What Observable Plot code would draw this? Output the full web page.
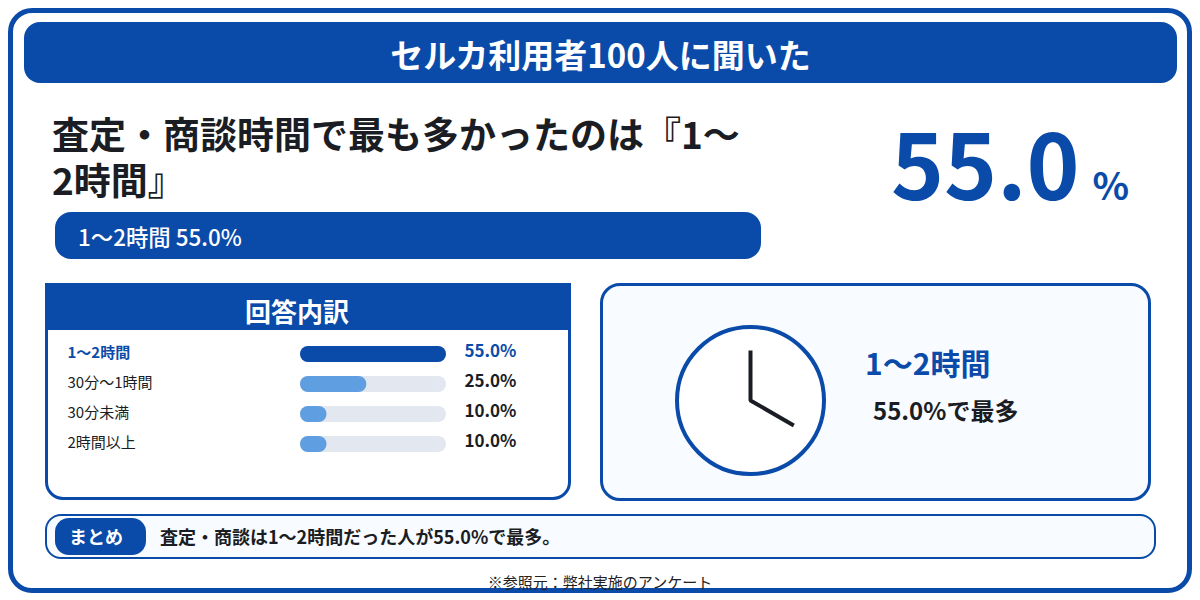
<!DOCTYPE html>
<html lang="ja">
<head>
<meta charset="utf-8">
<script src="https://cdn.jsdelivr.net/npm/d3@7"></script>
<script src="https://cdn.jsdelivr.net/npm/@observablehq/plot@0.6"></script>
<style>
html,body{margin:0;padding:0;background:#fff;width:1200px;height:600px;overflow:hidden;font-family:"Noto Sans CJK JP","Noto Sans",sans-serif;color:#1a1d23}
.a{position:absolute;box-sizing:border-box;white-space:nowrap}
.c{display:flex;align-items:center;justify-content:center}
svg{display:block;overflow:visible}
</style>
</head>
<body>
<div class="a" style="left:8px;top:8px;width:1184px;height:585px;border:5px solid #0a4ba9;border-radius:24px"></div>
<div class="a c" id="header" style="left:24px;top:22px;width:1153px;height:63px;color:#fff;font-size:33px;font-weight:700;z-index:1"></div>
<div class="a" style="left:24px;top:22px;width:1153px;height:61px;background:#0a4ba9;border-radius:16px"></div>
<div class="a" id="headline" style="left:52px;top:110px;width:700px;white-space:normal;font-size:37px;font-weight:700;line-height:46px"></div>
<div class="a" id="hero" style="left:891px;top:95px;color:#0a4ba9;font-weight:700;line-height:133px;font-size:90px"></div>
<div class="a" id="strip" style="left:55px;top:212px;width:706px;height:47px;background:#0a4ba9;border-radius:16px;color:#fff;font-size:22.4px;font-weight:500;line-height:49px;padding-left:23px"></div>

<div class="a" style="left:45px;top:283px;width:526px;height:217px;border:3px solid #0a4ba9;border-radius:0 0 18px 18px;background:#fff"></div>
<div class="a" style="left:45px;top:283px;width:526px;height:47px;background:#0a4ba9"></div>
<div class="a c" id="panelTitle" style="left:45px;top:285px;width:504px;height:50px;color:#fff;font-size:26px;font-weight:700"></div>
<div class="a" id="bars" style="left:48px;top:330px"></div>

<div class="a" style="left:600px;top:283px;width:551px;height:218px;border:3px solid #0a4ba9;border-radius:20px;background:#f8fbff"></div>
<div class="a" id="clock" style="left:670px;top:320px"></div>
<div class="a" id="big" style="left:865px;top:340px;font-size:30px;font-weight:700;color:#0a4ba9;line-height:44px"></div>
<div class="a" id="sub" style="left:873px;top:392px;font-size:24px;font-weight:700;line-height:36px"></div>

<div class="a" style="left:45px;top:514px;width:1111px;height:45px;border:2.5px solid #0a4ba9;border-radius:16px;background:#f8fbff"></div>
<div class="a" style="left:55px;top:518px;width:91px;height:37px;background:#0a4ba9;border-radius:14px"></div>
<div class="a c" id="tag" style="left:50px;top:517px;width:92px;height:37px;color:#fff;font-size:18px;font-weight:700"></div>
<div class="a" id="summary" style="left:160px;top:522px;font-size:18px;font-weight:700;line-height:28px"></div>
<div class="a c" id="source" style="left:400px;top:571px;width:400px;height:21px;font-size:15px;font-weight:400;color:#222;z-index:2"></div>

<script>
const headerText = "セルカ利用者100人に聞いた";
const topicText = "査定・商談時間";
const panelTitle = "回答内訳";
const tagText = "まとめ";
const sourceText = "※参照元：弊社実施のアンケート";

const categories = ["1〜2時間", "30分〜1時間", "30分未満", "2時間以上"];
const shares = [55.0, 25.0, 10.0, 10.0];

const handAngles = [0, 120]; // minute and hour hand, degrees clockwise from 12
const handLength = 50;

const blue = "#0a4ba9", light = "#5f9ee0", track = "#e3e8f0", ink = "#1a1d23";

const rows = categories.map((label, i) => ({label, share: shares[i]}));
const maxShare = d3.max(shares);
const top1 = rows.find(d => d.share === maxShare);
const pct = top1.share.toFixed(1);

document.getElementById("header").textContent = headerText;
document.getElementById("headline").textContent = `${topicText}で最も多かったのは『${top1.label}』`;
document.getElementById("hero").innerHTML = `${pct}<span style="font-size:38px;margin-left:13px">%</span>`;
document.getElementById("strip").textContent = `${top1.label} ${pct}%`;
document.getElementById("panelTitle").textContent = panelTitle;
document.getElementById("big").textContent = top1.label;
document.getElementById("sub").textContent = `${pct}%で最多`;
document.getElementById("tag").textContent = tagText;
document.getElementById("summary").textContent = `査定・商談は${top1.label}だった人が${pct}%で最多。`;
document.getElementById("source").textContent = sourceText;

const isTop = d => d.share === maxShare;
const labelOpts = {x: () => 0, y: "label", text: "label", textAnchor: "start", dx: -233, dy: -1, fontSize: 15};

document.getElementById("bars").append(Plot.plot({
  width: 520, height: 167,
  marginLeft: 252, marginRight: 122, marginTop: 9, marginBottom: 38,
  style: {background: "transparent", fontFamily: '"Noto Sans CJK JP", sans-serif'},
  x: {domain: [0, maxShare], axis: null},
  y: {domain: categories, padding: 0, axis: null},
  marks: [
    Plot.barX(rows, {x1: () => 0, x2: () => maxShare, y: "label", fill: track, rx: 8, insetTop: 7, insetBottom: 7}),
    Plot.barX(rows, {x1: () => 0, x2: "share", y: "label", fill: d => isTop(d) ? blue : light, rx: 8, insetTop: 7, insetBottom: 7}),
    Plot.text(rows.filter(isTop), {...labelOpts, fontWeight: 700, fill: blue}),
    Plot.text(rows.filter(d => !isTop(d)), {...labelOpts, fontWeight: 400, fill: ink}),
    Plot.text(rows, {x: () => maxShare, y: "label", text: d => d.share.toFixed(1) + "%", textAnchor: "start", dx: 18, dy: -3, fontSize: 17,
      fontWeight: 700, fill: d => isTop(d) ? blue : ink})
  ]
}));

const hand = a => [handLength * Math.sin(a * Math.PI / 180), handLength * Math.cos(a * Math.PI / 180)];
const clockPath = [hand(handAngles[0]), [0, 0], hand(handAngles[1])];

document.getElementById("clock").append(Plot.plot({
  width: 160, height: 160, margin: 0,
  style: {background: "transparent"},
  x: {domain: [-80, 80], axis: null},
  y: {domain: [-80, 80], axis: null},
  marks: [
    Plot.dot([[0, 0]], {x: d => d[0], y: d => d[1], r: 73.5, fill: "#fff", stroke: blue, strokeWidth: 4}),
    Plot.line(clockPath, {x: d => d[0], y: d => d[1], stroke: ink, strokeWidth: 4, strokeLinejoin: "miter", strokeLinecap: "butt"})
  ]
}));
</script>
</body>
</html>
